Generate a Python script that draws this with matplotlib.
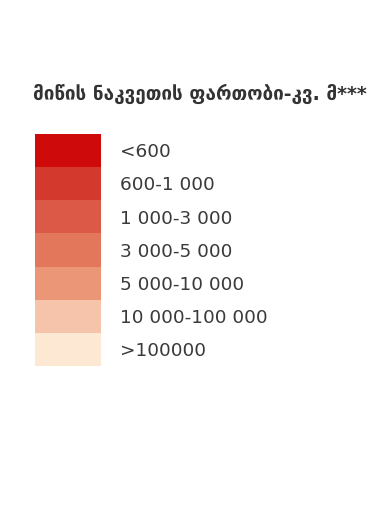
import matplotlib
matplotlib.use("Agg")
import matplotlib.pyplot as plt
from matplotlib.transforms import blended_transform_factory

title = "მიწის ნაკვეთის ფართობი-კვ. მ***"
labels = ["<600", "600-1 000", "1 000-3 000", "3 000-5 000",
          "5 000-10 000", "10 000-100 000", ">100000"]
colors = ["#cf0a0a", "#d3392c", "#db5946", "#e3775b", "#eb9676",
          "#f5c4aa", "#fde9d3"]

W, H = 382, 508
fig = plt.figure(figsize=(W / 100, H / 100), dpi=100)
fig.patch.set_facecolor("white")

# legend swatch column
ax = fig.add_axes([35 / W, (H - 366) / H, 66 / W, 232 / H])
pos = list(range(len(labels)))
ax.barh(pos, [1] * len(labels), height=1.0, left=0, color=colors,
        edgecolor="none")
ax.set_xlim(0, 1)
ax.set_ylim(len(labels) - 0.5, -0.5)
ax.axis("off")

tr = blended_transform_factory(ax.transAxes, ax.transData)
for i, lab in enumerate(labels):
    ax.text((120 - 35) / 66, i + 0.05, lab, transform=tr, ha="left", va="center",
            fontsize=13.3, color="#3a3a3a", family=["DejaVu Sans"])

fig.text(33 / W, 1 - 94 / H, title, ha="left", va="center", fontsize=13.6,
         color="#333333", family=["DejaVu Sans"], fontweight="bold")

fig.savefig("out.png", dpi=100, facecolor="white")
